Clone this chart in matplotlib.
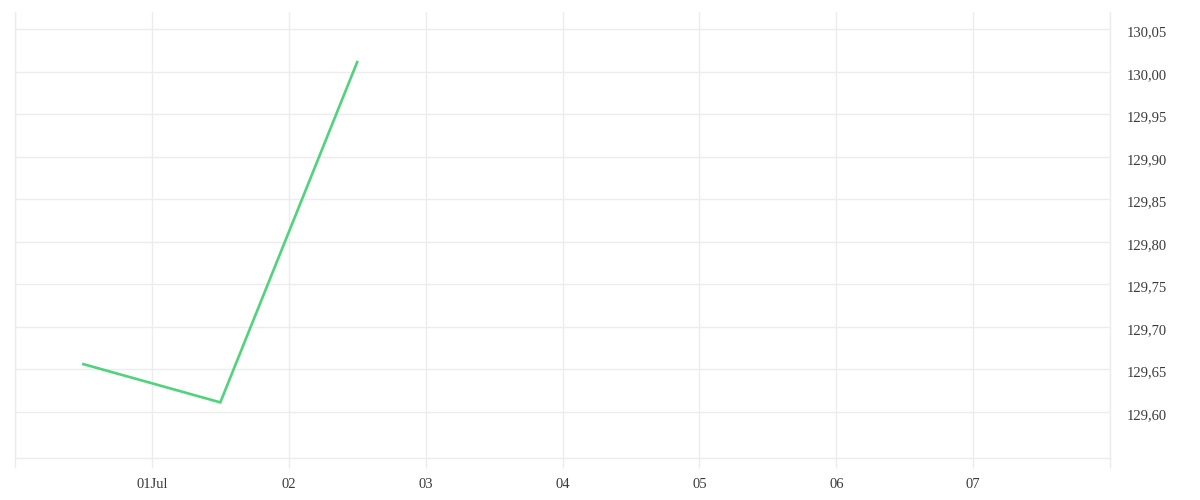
import matplotlib
matplotlib.use('Agg')
import matplotlib.pyplot as plt
import matplotlib.transforms as mtransforms
import pandas as pd

# data
dates = pd.to_datetime(['2020-06-30 12:00', '2020-07-01 12:00', '2020-07-02 12:00'])
prices = [129.656, 129.611, 130.0115]

yticks = [129.60, 129.65, 129.70, 129.75, 129.80, 129.85, 129.90, 129.95, 130.00, 130.05]
ytick_labels = ['129,60', '129,65', '129,70', '129,75', '129,80', '129,85', '129,90', '129,95', '130,00', '130,05']
xticks = pd.date_range('2020-06-30', '2020-07-08', freq='D')
xtick_labels = ['', '01Jul', '02', '03', '04', '05', '06', '07', '']

grid_c = '#ececec'
text_c = '#3a3a3a'
plt.rcParams['font.family'] = ['Liberation Serif', 'DejaVu Serif']

fig = plt.figure(figsize=(12, 5), dpi=100)
ax = fig.add_axes([15 / 1200, 1 - 458.3 / 500, 1095 / 1200, 446.3 / 500])

ax.plot(dates, prices, color='#4fd37b', lw=1.9, solid_joinstyle='miter')

ax.set_xlim(xticks[0], xticks[-1])
ax.set_ylim(129.5452, 130.0704)

ax.set_xticks(xticks)
ax.set_xticklabels(xtick_labels)
ax.set_yticks(yticks)
ax.set_yticklabels(ytick_labels)
ax.yaxis.tick_right()

ax.grid(True, color=grid_c, lw=1)
ax.set_axisbelow(True)
for s in ['left', 'right', 'bottom']:
    ax.spines[s].set_color(grid_c)
    ax.spines[s].set_linewidth(1)
ax.spines['top'].set_visible(False)

ax.tick_params(axis='x', length=7.2, width=1, color=grid_c, pad=7,
               labelsize=10.5, labelcolor=text_c)
ax.tick_params(axis='y', length=0, pad=12, labelsize=10.5, labelcolor=text_c)

# y labels sit a touch below their gridline in the reference
shift = mtransforms.ScaledTranslation(0, -2 / 100, fig.dpi_scale_trans)
for lab in ax.get_yticklabels():
    lab.set_transform(lab.get_transform() + shift)

fig.savefig('out.png', dpi=100, facecolor='white')
